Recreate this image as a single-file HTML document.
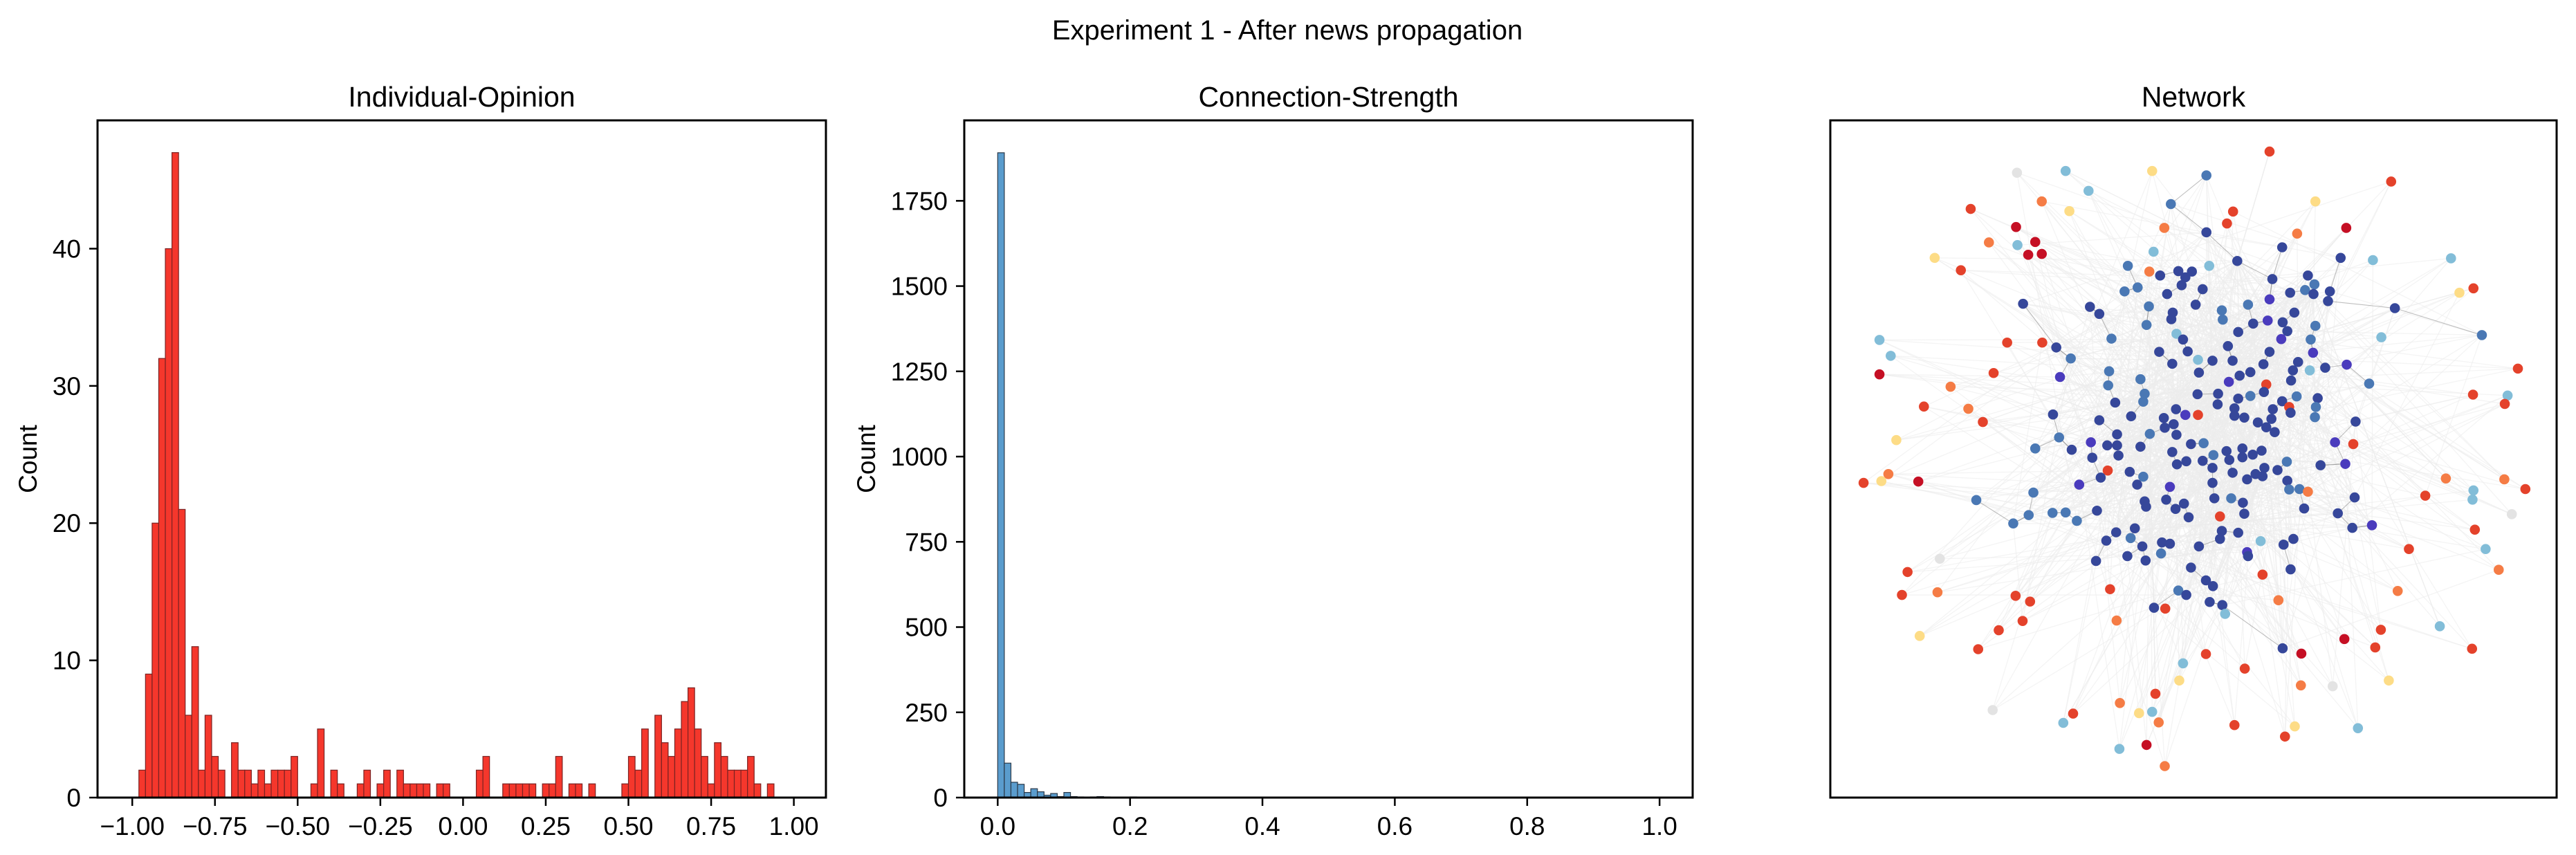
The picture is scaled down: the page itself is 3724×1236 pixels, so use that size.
<!DOCTYPE html>
<html><head><meta charset="utf-8"><style>
html,body{margin:0;padding:0;background:#fff;}
svg{display:block;font-family:"Liberation Sans","DejaVu Sans",sans-serif;}
</style></head><body>
<svg id="fig" width="3724" height="1236" viewBox="0 0 3724 1236" xmlns="http://www.w3.org/2000/svg">
<rect width="3724" height="1236" fill="#fff"/>
<text x="1861" y="57" font-size="40" text-anchor="middle">Experiment 1 - After news propagation</text>
<g id="p1"></g>
<g id="p2"></g>
<g id="p3"></g>
</svg>
<script>
// ---------- Panel 1 data ----------
const opinionBinStart = -1.0;
const opinionBinWidth = 0.02;
const opinionCounts = [0,2,9,20,32,40,47,21,6,11,2,6,3,2,0,4,2,2,1,2,1,2,2,2,3,0,0,1,5,0,2,1,0,0,1,2,0,1,2,0,2,1,1,1,1,0,1,1,0,0,0,0,2,3,0,0,1,1,1,1,1,0,1,1,3,0,1,1,0,1,0,0,0,0,1,3,2,5,0,6,4,3,5,7,8,5,3,1,4,3,2,2,2,3,1,0,1,0,0,0];
const opinionXTicks = [-1.0,-0.75,-0.5,-0.25,0,0.25,0.5,0.75,1.0];
const opinionXTickLabels = ["\u22121.00","\u22120.75","\u22120.50","\u22120.25","0.00","0.25","0.50","0.75","1.00"];
const opinionYTicks = [0,10,20,30,40];
// ---------- Panel 2 data ----------
const strengthBinStart = 0.0;
const strengthBinWidth = 0.01;
const strengthCounts = [1891,101,45,39,15,26,17,7,12,3,15,3,2,1,2,3,2,1,1,0,2];
const strengthXTicks = [0,0.2,0.4,0.6,0.8,1.0];
const strengthXTickLabels = ["0.0","0.2","0.4","0.6","0.8","1.0"];
const strengthYTicks = [0,250,500,750,1000,1250,1500,1750];
// ---------- Panel 3 nodes: "x,y,class" in reference zoom space ----------
const nodeList = ("948,77,R;512,121,L;697,121,Y;813,131,B;408,125,W;561,166,L;1208,145,R;461,190,O;309,207,R;520,212,Y;737,196,B;870,213,R;857,240,R;1046,190,Y;723,250,O;813,260,D;406,248,K;1112,250,K;1007,263,O;348,283,O;447,282,K;409,289,L;432,311,K;461,309,K;232,318,Y;288,346,R;975,294,D;700,304,L;1100,318,D;1169,323,L;1336,319,L;879,325,D;645,336,B;819,336,L;691,349,O;714,358,D;753,348,D;782,349,D;768,362,D;760,380,D;805,389,D;666,385,B;638,394,B;729,400,D;954,366,D;1030,358,D;1044,378,B;1024,391,B;992,397,D;1077,394,D;1042,400,D;1384,387,R;1354,397,Y;421,422,D;564,429,D;584,445,D;690,428,B;741,442,D;738,457,D;790,424,D;902,424,B;948,412,P;846,437,B;848,458,B;1073,416,D;1001,442,D;1216,432,D;685,470,B;913,467,D;944,460,P;976,464,D;986,484,D;1046,472,B;881,486,D;749,490,L;763,503,D;610,501,B;973,502,P;1036,503,B;1187,498,L;1402,493,B;114,504,L;387,510,R;462,510,R;492,521,D;523,546,B;712,531,D;773,530,D;859,518,D;948,531,D;1041,533,P;138,540,L;795,549,L;826,551,D;869,551,D;740,558,D;1009,554,D;935,559,D;1113,560,P;1067,567,D;1479,569,R;114,582,K;358,579,R;605,575,B;797,578,D;998,573,D;1034,573,L;500,588,P;884,585,D;907,577,D;672,593,B;603,607,B;941,605,R;994,596,D;1161,603,B;266,610,O;861,599,P;681,626,B;794,627,D;838,626,D;936,622,D;1006,632,B;1051,636,D;1383,628,R;1457,630,L;618,646,D;678,644,B;837,650,D;881,637,D;907,631,B;975,643,D;1451,649,R;209,655,R;304,660,O;990,656,R;1047,656,B;485,673,D;652,677,D;748,661,D;768,674,P;795,674,R;873,659,D;873,676,D;955,661,D;993,669,D;1045,679,B;335,690,R;584,686,D;722,681,D;743,695,D;724,703,D;894,680,D;923,691,D;941,702,D;952,683,D;1132,689,D;150,731,Y;498,725,B;622,718,D;692,717,B;749,719,D;959,713,D;566,736,P;601,743,D;622,743,D;672,746,D;780,740,D;807,738,B;1088,736,P;1127,740,R;447,750,B;525,753,D;740,758,D;856,756,D;890,750,D;931,755,D;862,776,D;890,770,D;912,764,D;828,765,B;569,771,D;625,766,D;750,786,D;770,779,D;805,778,D;985,780,B;1057,788,D;1110,785,P;133,808,O;80,828,R;118,824,Y;197,825,K;602,800,R;649,803,D;678,814,B;587,816,D;826,794,D;869,805,D;900,820,D;937,794,D;918,808,D;933,813,D;965,799,D;986,823,D;1325,818,O;1450,820,O;1495,842,R;541,832,P;665,832,D;735,837,P;826,828,D;990,843,B;1012,842,B;1030,848,O;1384,845,L;1281,857,R;443,850,B;321,867,B;681,870,D;727,866,D;765,875,D;830,863,D;866,863,B;891,873,D;1022,886,D;1130,861,D;1382,866,L;684,882,D;579,891,D;747,887,D;484,896,B;512,895,B;433,901,B;400,920,B;536,914,B;775,906,D;842,904,R;894,898,D;1094,897,D;1125,930,D;1167,924,P;1466,899,W;620,940,D;660,931,D;599,959,D;651,953,B;846,937,D;842,955,D;881,941,D;1387,934,R;929,960,L;999,955,D;978,968,D;718,963,D;735,966,D;797,972,D;676,972,D;1246,978,R;900,985,P;902,994,D;1410,978,L;716,988,B;644,994,D;683,1004,D;577,1005,D;243,1000,W;174,1030,R;780,1020,D;933,1036,R;993,1024,D;1438,1025,O;812,1049,D;827,1062,D;238,1076,O;162,1082,R;607,1069,R;753,1072,B;770,1082,D;1222,1073,O;405,1084,R;436,1097,R;967,1094,O;820,1098,D;847,1105,D;701,1111,D;725,1113,R;853,1125,L;420,1141,R;621,1140,O;1312,1153,L;369,1162,R;1186,1161,R;200,1175,Y;1108,1182,K;1174,1201,R;325,1205,R;976,1203,D;1016,1215,K;1381,1204,R;812,1216,R;763,1237,L;895,1249,R;1203,1276,Y;755,1276,Y;1015,1287,O;1083,1289,W;704,1306,R;628,1327,O;356,1343,W;697,1347,L;669,1350,Y;528,1351,R;711,1371,O;507,1372,L;873,1377,R;1137,1384,L;1002,1380,Y;981,1403,R;685,1422,K;627,1431,L;724,1470,O").split(";");
const nodeX = nodeList.map(s => +s.split(",")[0]);
const nodeY = nodeList.map(s => +s.split(",")[1]);
const nodeClass = nodeList.map(s => s.split(",")[2]);
const classColor = {D:"#36479a",P:"#4a3bbd",B:"#4a78b4",L:"#82bdd8",W:"#e3e3e3",Y:"#fddc86",O:"#f57c45",R:"#e4422b",K:"#c50f24"};

const NS = "http://www.w3.org/2000/svg";
function mk(parent, tag, attrs){ const e=document.createElementNS(NS,tag); for(const k in attrs) e.setAttribute(k,attrs[k]); parent.appendChild(e); return e; }

function histogram(g, cfg){
  const {L,R,T,B,xmin,xmax,ymin,ymax} = cfg;
  const sx = v => L + (v - xmin)/(xmax - xmin)*(R - L);
  const sy = v => B - (v - ymin)/(ymax - ymin)*(B - T);
  cfg.counts.forEach((c,i)=>{
    if(c<=0) return;
    const x0 = sx(cfg.binStart + i*cfg.binWidth), x1 = sx(cfg.binStart + (i+1)*cfg.binWidth);
    const r = mk(g,'rect',{x:x0,y:sy(c),width:x1-x0,height:sy(0)-sy(c),fill:cfg.fill,stroke:cfg.edge,'stroke-width':1.2});
    
    
  });
  cfg.xticks.forEach((t,i)=>{
    const x = sx(t);
    const tk = mk(g,'line',{x1:x,x2:x,y1:B,y2:B+12,stroke:'#000','stroke-width':2.5});
    
    
    const lb = mk(g,'text',{x:x,y:B+54,'font-size':37,'text-anchor':'middle'});
    lb.textContent = cfg.xlabels[i];
    
    
  });
  cfg.yticks.forEach(t=>{
    const y = sy(t);
    const tk = mk(g,'line',{x1:L-12,x2:L,y1:y,y2:y,stroke:'#000','stroke-width':2.5});
    
    
    const lb = mk(g,'text',{x:L-24,y:y+13,'font-size':37,'text-anchor':'end'});
    lb.textContent = String(t);
    
    
  });
  const fr = mk(g,'rect',{x:L,y:T,width:R-L,height:B-T,fill:'none',stroke:'#000','stroke-width':3});
  
  
  const ttl = mk(g,'text',{x:(L+R)/2,y:T-20,'font-size':41,'text-anchor':'middle'});
  ttl.textContent = cfg.title;
  
  
  const yl = mk(g,'text',{x:0,y:0,'font-size':37,'text-anchor':'middle',transform:`translate(${cfg.ylabelX},${(T+B)/2}) rotate(-90)`});
  yl.textContent = 'Count';
  
  
}

histogram(document.getElementById('p1'),{
  L:141,R:1194,T:174,B:1153,xmin:-1.105,xmax:1.097,ymin:0,ymax:49.35,
  counts:opinionCounts,binStart:opinionBinStart,binWidth:opinionBinWidth,
  fill:'#f5372c',edge:'#7a2222',xticks:opinionXTicks,xlabels:opinionXTickLabels,
  yticks:opinionYTicks,title:'Individual-Opinion',ylabelX:53
});
histogram(document.getElementById('p2'),{
  L:1394,R:2447,T:174,B:1153,xmin:-0.0505,xmax:1.05,ymin:0,ymax:1986,
  counts:strengthCounts,binStart:strengthBinStart,binWidth:strengthBinWidth,
  fill:'#5a9ccd',edge:'#2b3a4a',xticks:strengthXTicks,xlabels:strengthXTickLabels,
  yticks:strengthYTicks,title:'Connection-Strength',ylabelX:1265
});

// ---------- Panel 3 network ----------
(function(){
  const g = document.getElementById('p3');
  const L=2646,R=3696,T=174,B=1153;
  const px = zx => 2640 + zx/1.479;
  const py = zy => 170 + zy/1.568;
  const N = nodeX.length;
  const d2 = (i,j) => (nodeX[i]-nodeX[j])**2 + (nodeY[i]-nodeY[j])**2;
  const core = []; for(let i=0;i<N;i++) if(nodeClass[i]==='D'||nodeClass[i]==='P'||nodeClass[i]==='B') core.push(i);
  const haze = mk(g,'g',{});
  
  
  for(let i=0;i<N;i++){
    for(const k of [3,17,29,41]){
      const j = core[(i*k+5)%core.length];
      const e = mk(haze,'line',{x1:px(nodeX[i]),y1:py(nodeY[i]),x2:px(nodeX[j]),y2:py(nodeY[j]),stroke:'#ececec','stroke-width':1.3,'stroke-opacity':0.6});
      
      
    }
  }
  const dark = mk(g,'g',{});
  
  
  for(const i of core){
    // connect to nearest core neighbour
    let best=-1,bd=1e12;
    for(const j of core){ if(j===i) continue; const dd=d2(i,j); if(dd<bd){bd=dd;best=j;} }
    const e = mk(dark,'line',{x1:px(nodeX[i]),y1:py(nodeY[i]),x2:px(nodeX[best]),y2:py(nodeY[best]),stroke:'#888','stroke-width':1.1,'stroke-opacity':0.55});
    
    
  }
  for(let i=0;i<N;i++){
    const c = mk(g,'circle',{cx:px(nodeX[i]),cy:py(nodeY[i]),r:7.3,fill:classColor[nodeClass[i]]});
    
    
  }
  const fr = mk(g,'rect',{x:L,y:T,width:R-L,height:B-T,fill:'none',stroke:'#000','stroke-width':3});
  
  
  const ttl = mk(g,'text',{x:(L+R)/2,y:T-20,'font-size':41,'text-anchor':'middle'});
  ttl.textContent = 'Network';
  
  
})();
</script>
</body></html>
